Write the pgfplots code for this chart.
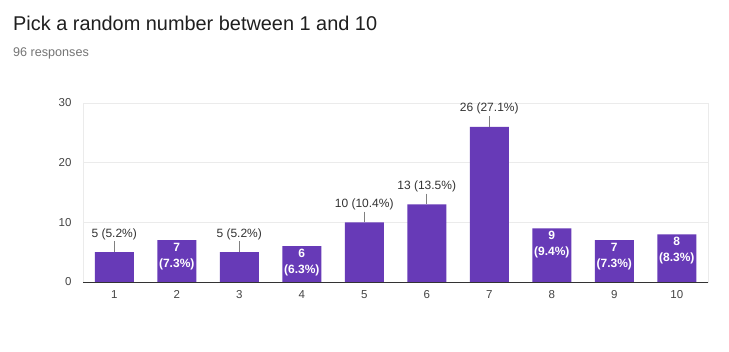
\documentclass[border=0pt]{standalone}
\usepackage{pgfplots}
\pgfplotsset{compat=1.18}
\usepackage{fontspec}
\setmainfont{Liberation Sans}
\definecolor{barc}{HTML}{673AB7}
\definecolor{tickc}{HTML}{444444}
\definecolor{gridc}{HTML}{EBEBEB}
\definecolor{subc}{HTML}{757575}
\definecolor{labc}{HTML}{333333}
\begin{document}
\begin{tikzpicture}
\useasboundingbox[fill=white] (0,0) rectangle (729bp,352bp);
\node[anchor=base west, font=\fontsize{19.9bp}{23bp}\selectfont, text=black!88, inner sep=0] at (13bp,321bp) {Pick a random number between 1 and 10};
\node[anchor=base west, font=\fontsize{12.6bp}{14bp}\selectfont, text=subc, inner sep=0] at (13bp,295bp) {96 responses};
\begin{axis}[
  at={(83bp,70bp)}, anchor=south west, scale only axis,
  width=625bp, height=179bp,
  xmin=0.5, xmax=10.5, ymin=0, ymax=30,
  ytick={0,10,20,30}, xtick={1,...,10},
  ymajorgrids, grid style={gridc, line width=0.8bp},
  axis line style={gridc, line width=0.8bp},
  major tick length=0pt,
  tick label style={font=\fontsize{11.5bp}{13bp}\selectfont, text=tickc},
  yticklabel style={xshift=-8bp},
  xticklabel style={yshift=-5bp},
  /pgf/number format/assume math mode=true,
  clip=false,
]
\addplot[ybar, bar width=39bp, fill=barc, draw=none] coordinates {
  (1,5) (2,7) (3,5) (4,6) (5,10) (6,13) (7,26) (8,9) (9,7) (10,8)
};
\draw[labc, line width=1bp] (axis cs:0.5,0) -- (axis cs:10.5,0);
% outside labels with leader lines
\addplot[only marks, mark=none,
  nodes near coords, point meta=explicit symbolic,
  nodes near coords style={anchor=south, font=\fontsize{12bp}{14bp}\selectfont, text=labc, inner sep=1.5bp},
  error bars/.cd, y dir=minus, y explicit, error mark=none,
  error bar style={draw=gray, line width=0.7bp}]
coordinates {
  (1,6.8) -= (0,1.8) [5 (5.2\%)]
  (3,6.8) -= (0,1.8) [5 (5.2\%)]
  (5,11.8) -= (0,1.8) [10 (10.4\%)]
  (6,14.8) -= (0,1.8) [13 (13.5\%)]
  (7,27.8) -= (0,1.8) [26 (27.1\%)]
};
% inside labels
\addplot[only marks, mark=none,
  nodes near coords, point meta=explicit symbolic,
  nodes near coords style={anchor=north, align=center, font=\fontsize{12bp}{16bp}\selectfont\bfseries, text=white, inner sep=3bp}]
coordinates {
  (2,7) [{7\\(7.3\%)}]
  (4,6) [{6\\(6.3\%)}]
  (8,9) [{9\\(9.4\%)}]
  (9,7) [{7\\(7.3\%)}]
  (10,8) [{8\\(8.3\%)}]
};
\end{axis}
\end{tikzpicture}
\end{document}
